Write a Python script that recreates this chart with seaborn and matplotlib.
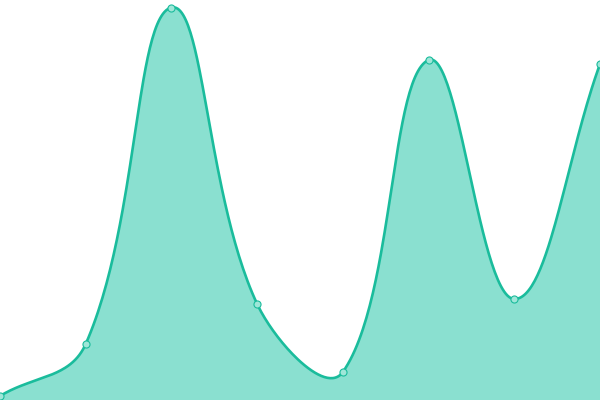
import numpy as np
import pandas as pd
import matplotlib
matplotlib.use("Agg")
import matplotlib.pyplot as plt
import seaborn as sns

# values (height in pixels above the bottom edge)
positions = [0, 1, 2, 3, 4, 5, 6, 7]
values = [4, 56, 392.5, 96, 28, 340, 101, 336]

line_color = "#1abc9c"
fill_color = "#8ae0d0"

# smooth curve like chart.js (tension 0.4), worked out in pixel space
W, H = 600, 400
px = np.array(positions) * W / (len(positions) - 1)
py = np.array(values, dtype=float)
t = 0.4
n = len(px)
c_prev = np.zeros((n, 2))
c_next = np.zeros((n, 2))
for i in range(n):
    p0 = np.array([px[max(i - 1, 0)], py[max(i - 1, 0)]])
    p1 = np.array([px[i], py[i]])
    p2 = np.array([px[min(i + 1, n - 1)], py[min(i + 1, n - 1)]])
    d01 = np.hypot(*(p1 - p0))
    d12 = np.hypot(*(p2 - p1))
    tot = d01 + d12
    s01 = d01 / tot if tot else 0
    s12 = d12 / tot if tot else 0
    c_prev[i] = p1 - t * s01 * (p2 - p0)
    c_next[i] = p1 + t * s12 * (p2 - p0)

xs, ys = [], []
u = np.linspace(0, 1, 60)
for i in range(n - 1):
    a = np.array([px[i], py[i]])
    b = c_next[i]
    c = c_prev[i + 1]
    d = np.array([px[i + 1], py[i + 1]])
    seg = ((1 - u) ** 3)[:, None] * a + (3 * (1 - u) ** 2 * u)[:, None] * b \
        + (3 * (1 - u) * u ** 2)[:, None] * c + (u ** 3)[:, None] * d
    xs.extend(seg[:, 0] * (n - 1) / W)
    ys.extend(seg[:, 1])
curve = pd.DataFrame({"x": xs, "y": ys})
pts = pd.DataFrame({"x": positions, "y": values})

sns.set_style("white")
fig = plt.figure(figsize=(6, 4), dpi=100)
ax = fig.add_axes([0, 0, 1, 1])
ax.fill_between(curve["x"], curve["y"], 0, color=fill_color, linewidth=0)
sns.lineplot(data=curve, x="x", y="y", ax=ax, color=line_color, linewidth=1.9, sort=False)
sns.scatterplot(data=pts, x="x", y="y", ax=ax, s=26, color="#9fe6d8",
                edgecolor=line_color, linewidth=0.8, zorder=5)
ax.set_xlim(0, 7)
ax.set_ylim(0, 400)
ax.axis("off")
fig.savefig("out.png", dpi=100)
